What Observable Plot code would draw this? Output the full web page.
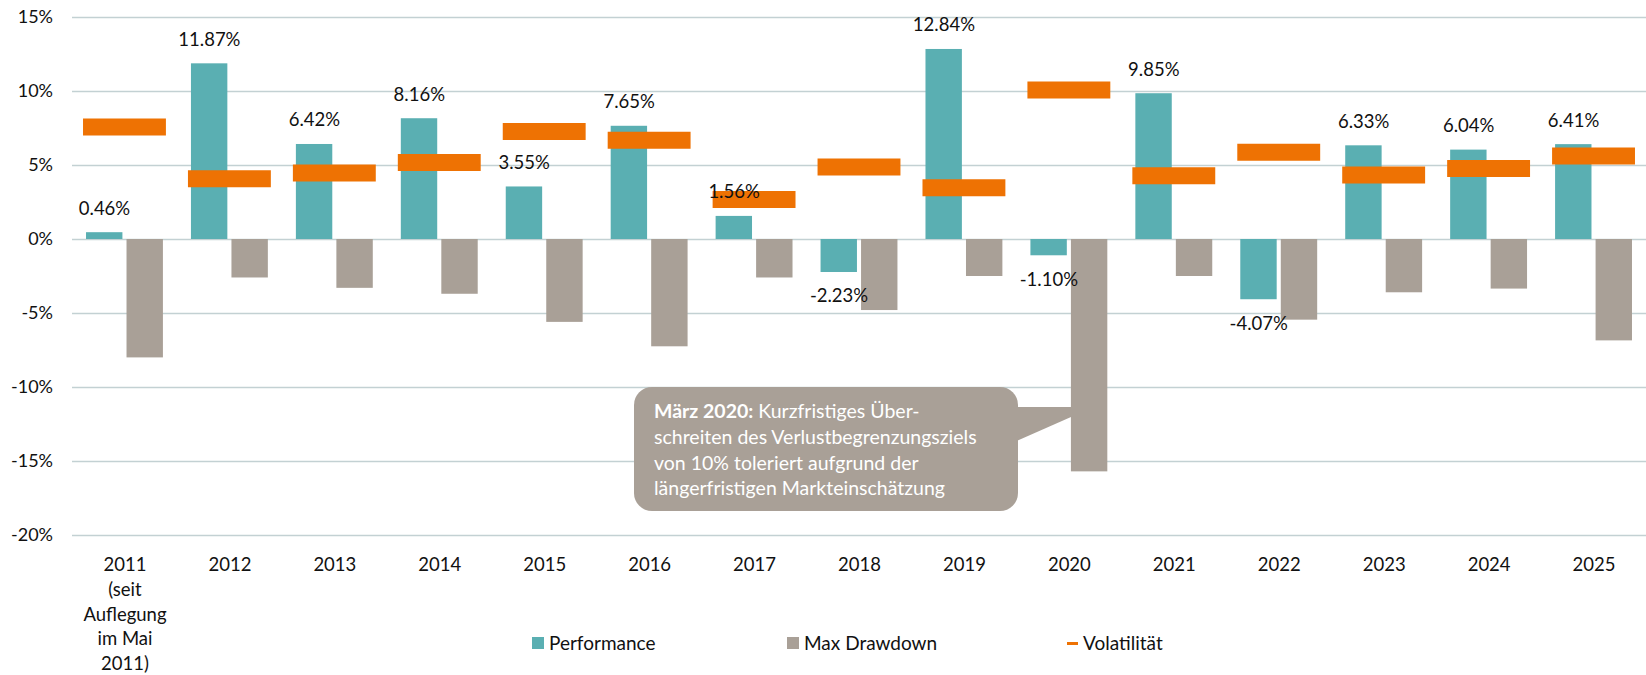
<!DOCTYPE html>
<html>
<head>
<meta charset="utf-8">
<script src="https://cdn.jsdelivr.net/npm/d3@7"></script>
<script src="https://cdn.jsdelivr.net/npm/@observablehq/plot@0.6"></script>
<style>
  html, body { margin: 0; padding: 0; background: #fff; }
  body { font-family: Lato, "Open Sans", sans-serif; }
  #wrap { position: relative; width: 1646px; height: 675px; overflow: hidden; }
  #chart svg { display: block; }
  .note {
    position: absolute; left: 634px; top: 387px; width: 384px; height: 124px;
    box-sizing: border-box; padding: 11px 0 0 20px;
    background: #a9a097; border-radius: 18px; color: #fff;
    font-size: 19.5px; line-height: 25.8px; white-space: nowrap;
  }
  .pointer { position: absolute; left: 0; top: 0; }
  .legend { position: absolute; top: 631px; left: 0; width: 1646px; height: 24px; font-size: 19px; color: #111; }
  .legend .item { position: absolute; top: 0; height: 24px; line-height: 24px; display: flex; align-items: center; }
  .legend .sw { display: inline-block; width: 12px; height: 12px; margin-right: 5px; }
  .legend .dash { display: inline-block; width: 11px; height: 3px; margin-right: 5px; }
</style>
</head>
<body>
<div id="wrap">
  <div id="chart"></div>
</div>
<script>
// ---- data ----
const years = ["2011","2012","2013","2014","2015","2016","2017","2018","2019","2020","2021","2022","2023","2024","2025"];
const yearLabels = ["2011\n(seit\nAuflegung\nim Mai\n2011)","2012","2013","2014","2015","2016","2017","2018","2019","2020","2021","2022","2023","2024","2025"];
const performance = [0.46, 11.87, 6.42, 8.16, 3.55, 7.65, 1.56, -2.23, 12.84, -1.10, 9.85, -4.07, 6.33, 6.04, 6.41];
const maxDrawdown = [-8.0, -2.6, -3.3, -3.7, -5.6, -7.25, -2.6, -4.8, -2.5, -15.7, -2.5, -5.45, -3.6, -3.35, -6.85];
const volatility  = [7.6, 4.1, 4.5, 5.2, 7.3, 6.7, 2.7, 4.9, 3.5, 10.1, 4.3, 5.9, 4.35, 4.8, 5.65];
const yTicks = [15, 10, 5, 0, -5, -10, -15, -20];
const seriesNames = ["Performance", "Max Drawdown", "Volatilität"];
const noteTitle = "März 2020:";
const noteLines = ["Kurzfristiges Über-", "schreiten des Verlustbegrenzungsziels", "von 10% toleriert aufgrund der", "längerfristigen Markteinschätzung"];

// ---- styles ----
const C_PERF = "#5aafb2", C_DD = "#a9a097", C_VOL = "#ee7203", C_GRID = "#c3d1d3", C_TEXT = "#111";

const rows = years.map((y, i) => ({year: y, perf: performance[i], dd: maxDrawdown[i], vol: volatility[i]}));
const labelOf = new Map(years.map((y, i) => [y, yearLabels[i]]));
const pct = v => `${v.toFixed(2)}%`;

const chart = Plot.plot({
  width: 1646, height: 675,
  marginLeft: 72, marginRight: 0, marginTop: 17, marginBottom: 140,
  style: {fontFamily: "Lato, 'Open Sans', sans-serif", fontSize: "18px", color: C_TEXT, background: "transparent"},
  x: {domain: years, paddingInner: 0.21, paddingOuter: 0.105, round: false, label: null},
  y: {domain: [-20, 15], label: null},
  marks: [
    Plot.ruleY(yTicks, {stroke: C_GRID, strokeWidth: 1.3}),
    Plot.barY(rows, {x: "year", y: "perf", fill: C_PERF, insetLeft: 3, insetRight: 43.5}),
    Plot.barY(rows, {x: "year", y: "dd", fill: C_DD, insetLeft: 43.5, insetRight: 3}),
    Plot.tickY(rows, {x: "year", y: "vol", stroke: C_VOL, strokeWidth: 17}),
    Plot.text(rows.filter(d => d.perf >= 0), {x: "year", y: "perf", text: d => pct(d.perf), dx: -20.5, dy: -24, fontSize: 18.5, fill: C_TEXT}),
    Plot.text(rows.filter(d => d.perf < 0), {x: "year", y: "perf", text: d => pct(d.perf), dx: -20.5, dy: 24, fontSize: 18.5, fill: C_TEXT}),
    Plot.axisY({ticks: yTicks, tickFormat: d => `${d}%`, tickSize: 0, tickPadding: 19.5, fontSize: 18, fill: C_TEXT}),
    Plot.axisX({tickFormat: d => labelOf.get(d), tickSize: 0, tickPadding: 18.5, lineHeight: 1.33, fontSize: 18.5, fill: C_TEXT})
  ]
});
document.getElementById("chart").appendChild(chart);

// ---- annotation callout ----
const wrap = document.getElementById("wrap");
const ns = "http://www.w3.org/2000/svg";
const ptr = document.createElementNS(ns, "svg");
ptr.setAttribute("class", "pointer");
ptr.setAttribute("width", 1646); ptr.setAttribute("height", 675);
const poly = document.createElementNS(ns, "polygon");
poly.setAttribute("points", "1010,407 1071,407 1071,417 1010,444");
poly.setAttribute("fill", C_DD);
ptr.appendChild(poly);
wrap.appendChild(ptr);

const note = document.createElement("div");
note.className = "note";
note.innerHTML = `<b>${noteTitle}</b> ${noteLines[0]}<br>${noteLines.slice(1).join("<br>")}`;
wrap.appendChild(note);

// ---- legend ----
const legend = document.createElement("div");
legend.className = "legend";
const legendPos = [532, 787, 1067];
seriesNames.forEach((name, i) => {
  const it = document.createElement("div");
  it.className = "item";
  it.style.left = legendPos[i] + "px";
  const mark = document.createElement("span");
  if (i < 2) { mark.className = "sw"; mark.style.background = i === 0 ? C_PERF : C_DD; }
  else { mark.className = "dash"; mark.style.background = C_VOL; }
  it.appendChild(mark);
  it.appendChild(document.createTextNode(name));
  legend.appendChild(it);
});
wrap.appendChild(legend);
</script>
</body>
</html>
